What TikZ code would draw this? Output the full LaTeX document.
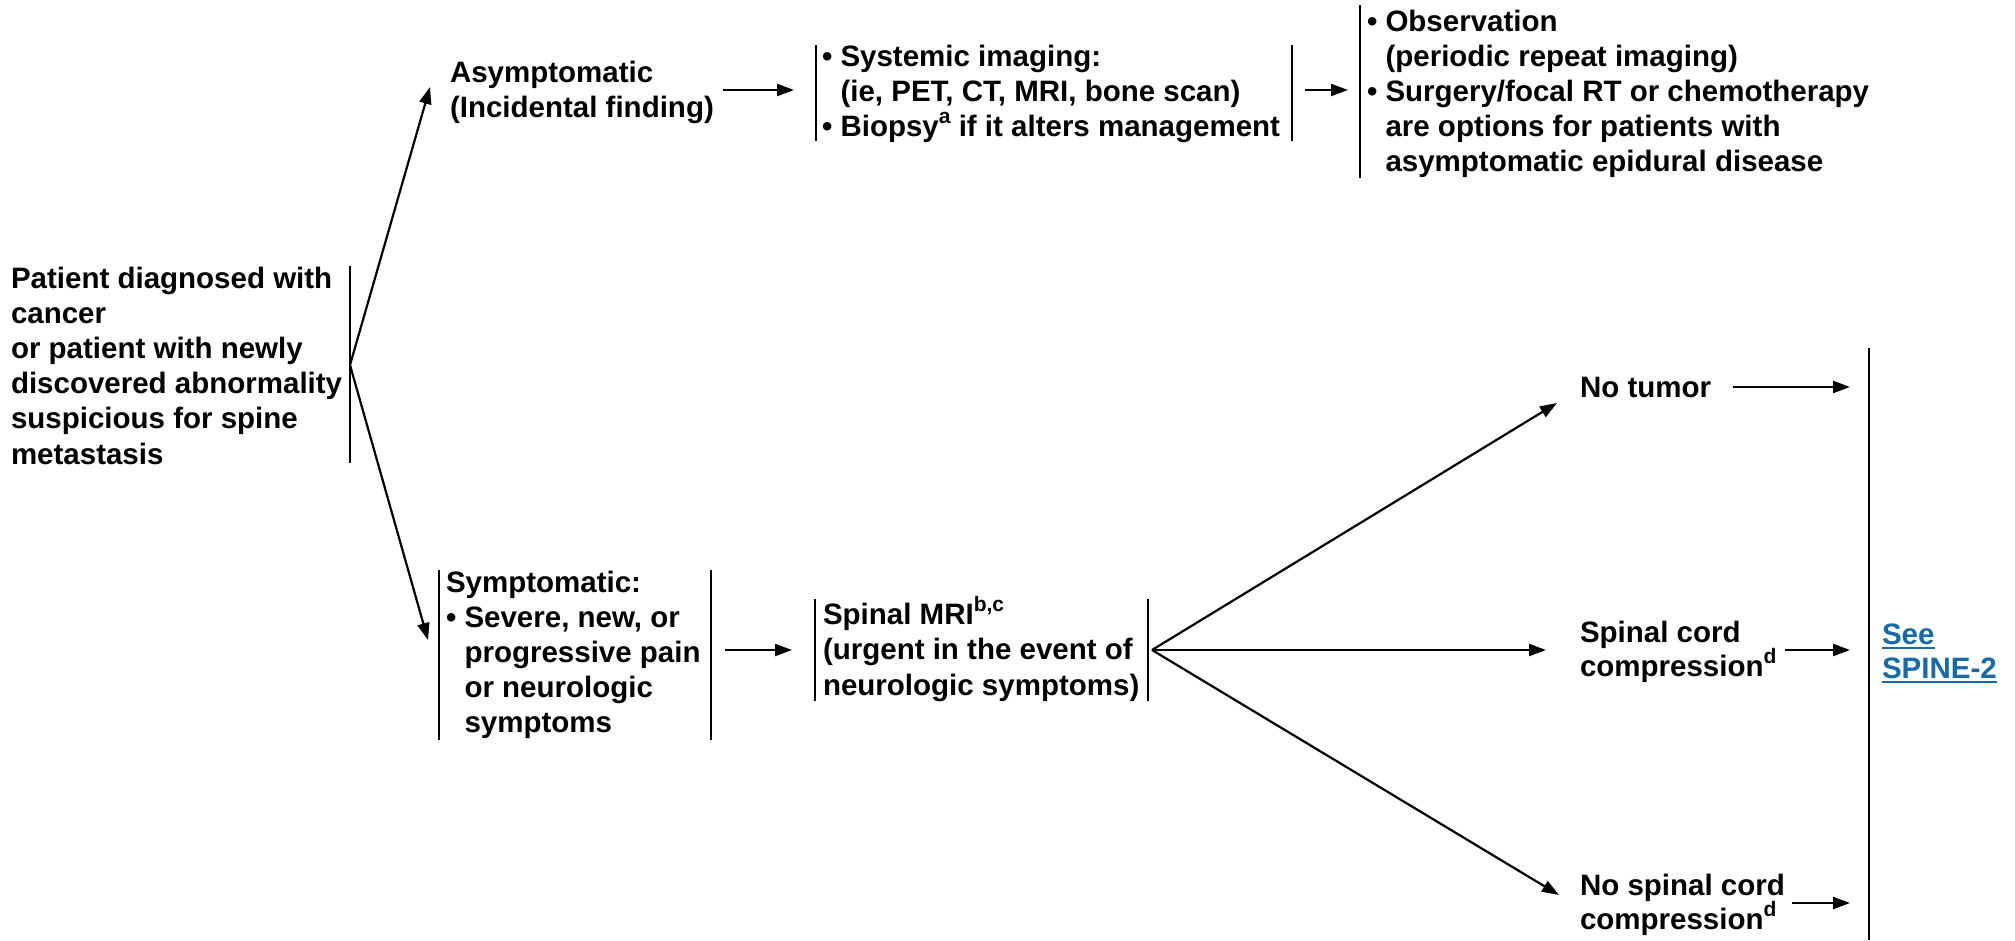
\documentclass[tikz,border=0pt]{standalone}
\usepackage{fontspec}
\setmainfont{Liberation Sans}
\usetikzlibrary{arrows.meta}
\definecolor{linkblue}{RGB}{22,106,170}
% footnote marks set a little above the line
\newcommand\fnmark[1]{\raisebox{0.42em}{\fontsize{21}{21}\selectfont #1}}
% fixes the height of the first line of every text block
\newcommand\fs{\rule{0pt}{28pt}}
\newcommand\bul{•\ }
\newcommand\ind{\phantom{•\ }}
% underlined link text
\newsavebox\linkbox
\newcommand\linkline[1]{\sbox\linkbox{#1}\rlap{\rule[-4.5pt]{\wd\linkbox}{1.6pt}}\usebox\linkbox}
\begin{document}
\begin{tikzpicture}[x=1pt,y=-1pt,
  txt/.style={anchor=north west,inner sep=0pt,outer sep=0pt,align=left,
    font=\fontsize{29.5}{35}\selectfont\bfseries},
  bar/.style={line width=2.6pt},
  arr/.style={line width=2.2pt,-{Triangle[length=17pt,width=12pt]}},
]
\useasboundingbox[fill=white] (0,0) rectangle (2015,940);

% text blocks (first baseline = node top + 28)
\node[txt,font=\fontsize{29.5}{35.2}\selectfont\bfseries] (pat) at (11,260)
  {\fs Patient diagnosed with\\cancer\\or patient with newly\\discovered abnormality\\suspicious for spine\\metastasis};
\node[txt] (asym) at (450,54) {\fs Asymptomatic\\(Incidental finding)};
\node[txt] (sys) at (822,38)
  {\fs\bul Systemic imaging:\\\ind(ie, PET, CT, MRI, bone scan)\\\bul Biopsy\fnmark{a} if it alters management};
\node[txt] (obs) at (1367,3)
  {\fs\bul Observation\\\ind(periodic repeat imaging)\\\bul Surgery/focal RT or chemotherapy\\\ind are options for patients with\\\ind asymptomatic epidural disease};
\node[txt] (sym) at (446,564)
  {\fs Symptomatic:\\\bul Severe, new, or\\\ind progressive pain\\\ind or neurologic\\\ind symptoms};
\node[txt,font=\fontsize{29.5}{35.5}\selectfont\bfseries] (mri) at (823,596)
  {\fs Spinal MRI\fnmark{b,c}\\(urgent in the event of\\neurologic symptoms)};
\node[txt] (notum) at (1580,369) {\fs No tumor};
\node[txt,font=\fontsize{29.5}{34}\selectfont\bfseries] (scc) at (1580,614)
  {\fs Spinal cord\\compression\fnmark{d}};
\node[txt,font=\fontsize{29.5}{34}\selectfont\bfseries] (nscc) at (1580,867)
  {\fs No spinal cord\\compression\fnmark{d}};
\node[txt,font=\fontsize{29.5}{34}\selectfont\bfseries,text=linkblue] (see) at (1882,616)
  {\fs\linkline{See}\\\linkline{SPINE-2}};

% vertical bars in front of / behind the text blocks
\draw[bar] (350,266) -- (350,463);
\draw[bar] (816,45) -- (816,141);
\draw[bar] (1292,45) -- (1292,141);
\draw[bar] (1360,5) -- (1360,178);
\draw[bar] (439,570) -- (439,740);
\draw[bar] (711,570) -- (711,740);
\draw[bar] (815,599) -- (815,701);
\draw[bar] (1148,599) -- (1148,701);
\draw[bar] (1869,348) -- (1869,940);

% connector end points
\coordinate (patApex) at (350,365);
\coordinate (asymIn) at (430,87);
\coordinate (symIn) at (428,640);
\coordinate (asymOut) at (723,90);
\coordinate (sysIn) at (794,90);
\coordinate (sysOut) at (1305,90);
\coordinate (obsIn) at (1348,90);
\coordinate (symOut) at (725,650);
\coordinate (mriIn) at (792,650);
\coordinate (mriApex) at (1152,650);
\coordinate (notumIn) at (1557,403);
\coordinate (sccIn) at (1546,650);
\coordinate (nsccIn) at (1559,895);
\coordinate (notumOut) at (1733,387);
\coordinate (sccOut) at (1785,650);
\coordinate (nsccOut) at (1792,903);
\coordinate (seeA) at (1850,387);
\coordinate (seeB) at (1850,650);
\coordinate (seeC) at (1850,903);

% connectors
\draw[arr] (patApex) -- (asymIn);
\draw[arr] (patApex) -- (symIn);
\draw[arr] (asymOut) -- (sysIn);
\draw[arr] (sysOut) -- (obsIn);
\draw[arr] (symOut) -- (mriIn);
\draw[arr] (mriApex) -- (notumIn);
\draw[arr] (mriApex) -- (sccIn);
\draw[arr] (mriApex) -- (nsccIn);
\draw[arr] (notumOut) -- (seeA);
\draw[arr] (sccOut) -- (seeB);
\draw[arr] (nsccOut) -- (seeC);
\end{tikzpicture}
\end{document}
